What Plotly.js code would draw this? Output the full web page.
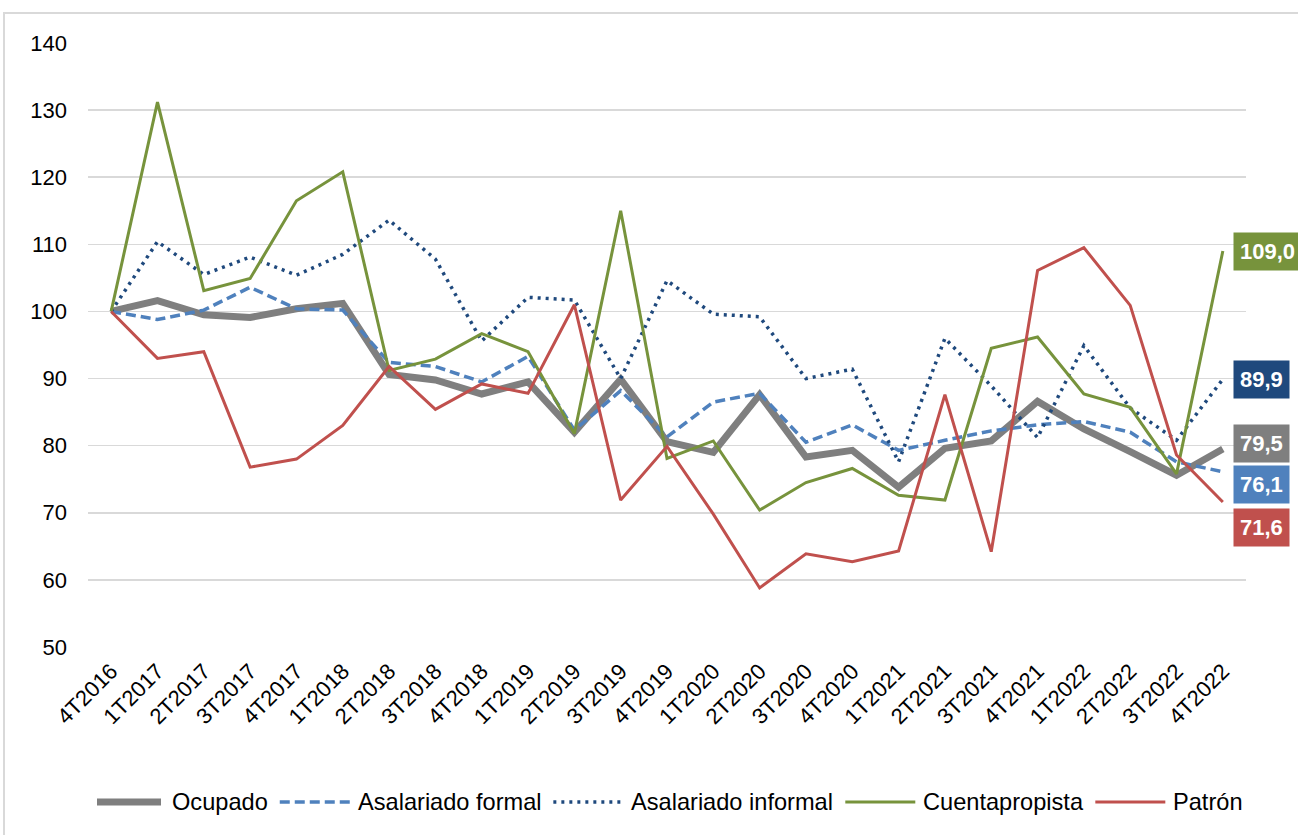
<!DOCTYPE html>
<html>
<head>
<meta charset="utf-8">
<script src="https://cdn.plot.ly/plotly-3.0.1.min.js"></script>
<style>
  html, body { margin: 0; padding: 0; background: #ffffff; overflow: hidden; }
  #chart { width: 1298px; height: 835px; }
  #frame { position: absolute; left: 3px; top: 12px; width: 1400px; height: 1000px;
           border: 2px solid #d9d9d9; pointer-events: none; }
</style>
</head>
<body>
<div id="chart"></div>
<div id="frame"></div>
<script>
const categories = ["4T2016","1T2017","2T2017","3T2017","4T2017","1T2018","2T2018","3T2018","4T2018",
  "1T2019","2T2019","3T2019","4T2019","1T2020","2T2020","3T2020","4T2020",
  "1T2021","2T2021","3T2021","4T2021","1T2022","2T2022","3T2022","4T2022"];

const ocupado = [100, 101.6, 99.5, 99.1, 100.4, 101.2, 90.6, 89.8, 87.7,
  89.5, 82.0, 89.9, 80.6, 79.0, 87.6, 78.3, 79.3,
  73.8, 79.6, 80.7, 86.6, 82.5, 79.1, 75.6, 79.5];

const asalariadoFormal = [100, 98.8, 100.2, 103.6, 100.4, 100.2, 92.4, 91.8, 89.5,
  93.3, 82.3, 88.2, 81.3, 86.5, 87.8, 80.5, 83.1,
  79.3, 80.8, 82.2, 83.1, 83.6, 82.0, 77.6, 76.1];

const asalariadoInformal = [100, 110.4, 105.5, 108.1, 105.4, 108.5, 113.6, 107.8, 95.6,
  102.1, 101.7, 90.0, 104.6, 99.6, 99.2, 90.0, 91.4,
  77.6, 96.0, 88.9, 81.2, 94.9, 85.6, 80.8, 89.9];

const cuentapropista = [100, 131.2, 103.1, 104.9, 116.5, 120.8, 91.2, 92.9, 96.7,
  94.0, 81.8, 115.0, 78.1, 80.7, 70.4, 74.5, 76.6,
  72.6, 71.9, 94.5, 96.2, 87.7, 85.7, 75.8, 109.0];

const patron = [100, 93.0, 94.0, 76.8, 78.0, 83.0, 91.8, 85.4, 89.2,
  87.8, 101.0, 71.9, 79.9, 69.8, 58.8, 63.9, 62.7,
  64.3, 87.6, 64.2, 106.1, 109.5, 100.9, 78.6, 71.6];

const seriesNames = ["Ocupado", "Asalariado formal", "Asalariado informal", "Cuentapropista", "Patrón"];
const seriesData = [ocupado, asalariadoFormal, asalariadoInformal, cuentapropista, patron];
const lineColors = ["#7f7f7f", "#4f81bd", "#1f497d", "#77933c", "#c0504d"];
const lineWidths = [7, 3.5, 3.5, 3, 3];
const lineDashes = ["solid", "10px,5px", "3px,5px", "solid", "solid"];

const labelOrder = [3, 2, 0, 1, 4];
const labelColors = ["#7f7f7f", "#4f81bd", "#1f497d", "#77933c", "#c0504d"];
const labelYShift = [6, -13, 0, 0, -25];

const FONT = "Liberation Sans, Arial, sans-serif";
const W = 1298, H = 835;
const M = { l: 88, r: 52, t: 43, b: 188 };
const plotW = W - M.l - M.r, plotH = H - M.t - M.b;

const traces = seriesNames.map((name, i) => ({
  type: "scatter",
  mode: "lines",
  name: name,
  x: categories,
  y: seriesData[i],
  line: { color: lineColors[i], width: lineWidths[i], dash: lineDashes[i] },
  hoverinfo: "x+y+name"
}));

const last = categories.length - 1;
const annotations = labelOrder.map(i => ({
  xref: "x", yref: "y",
  x: categories[last],
  y: seriesData[i][last],
  text: "<b>" + seriesData[i][last].toFixed(1).replace(".", ",") + "</b>",
  showarrow: false,
  xanchor: "left",
  yanchor: "middle",
  xshift: 10,
  yshift: labelYShift[i],
  bgcolor: labelColors[i],
  borderpad: 6,
  font: { family: FONT, size: 22, color: "#ffffff" }
}));

// Custom legend with long line samples (as in the reference)
const legendFontSize = 23.6;
const ctx = document.createElement("canvas").getContext("2d");
ctx.font = legendFontSize + "px 'Liberation Sans', Arial, sans-serif";
const pxToPaperX = px => (px - M.l) / plotW;
const legendYpx = 802;
const legendY = (H - M.b - legendYpx) / plotH;
const shapes = [];
let cursor = 94;
seriesNames.forEach((name, i) => {
  shapes.push({
    type: "line", xref: "paper", yref: "paper",
    x0: pxToPaperX(cursor + (i === 0 ? 3 : 0)), x1: pxToPaperX(cursor + 70 - (i === 0 ? 3 : 0)),
    y0: legendY, y1: legendY,
    line: { color: lineColors[i], width: lineWidths[i], dash: lineDashes[i] }
  });
  annotations.push({
    xref: "paper", yref: "paper",
    x: pxToPaperX(cursor + 76), y: legendY,
    xanchor: "left", yanchor: "middle",
    text: name, showarrow: false,
    font: { family: FONT, size: legendFontSize, color: "#000000" }
  });
  cursor += 76 + ctx.measureText(name).width + 14;
});

const layout = {
  width: W,
  height: H,
  margin: M,
  paper_bgcolor: "rgba(0,0,0,0)",
  plot_bgcolor: "#ffffff",
  font: { family: FONT, size: 22, color: "#000000" },
  showlegend: false,
  xaxis: {
    type: "category",
    range: [-0.5, last + 0.5],
    tickangle: -45,
    showgrid: false,
    showline: false,
    zeroline: false,
    ticks: "",
    ticklabelstandoff: 6,
    tickfont: { family: FONT, size: 22, color: "#000000" }
  },
  yaxis: {
    range: [50, 140],
    tickmode: "linear",
    tick0: 50,
    dtick: 10,
    showgrid: true,
    gridcolor: "#d9d9d9",
    gridwidth: 1.5,
    zeroline: false,
    showline: false,
    ticks: "",
    ticklabelstandoff: 20,
    tickfont: { family: FONT, size: 22, color: "#000000" }
  },
  shapes: shapes,
  annotations: annotations
};

Plotly.newPlot("chart", traces, layout, { displayModeBar: false, staticPlot: true });
</script>
</body>
</html>
